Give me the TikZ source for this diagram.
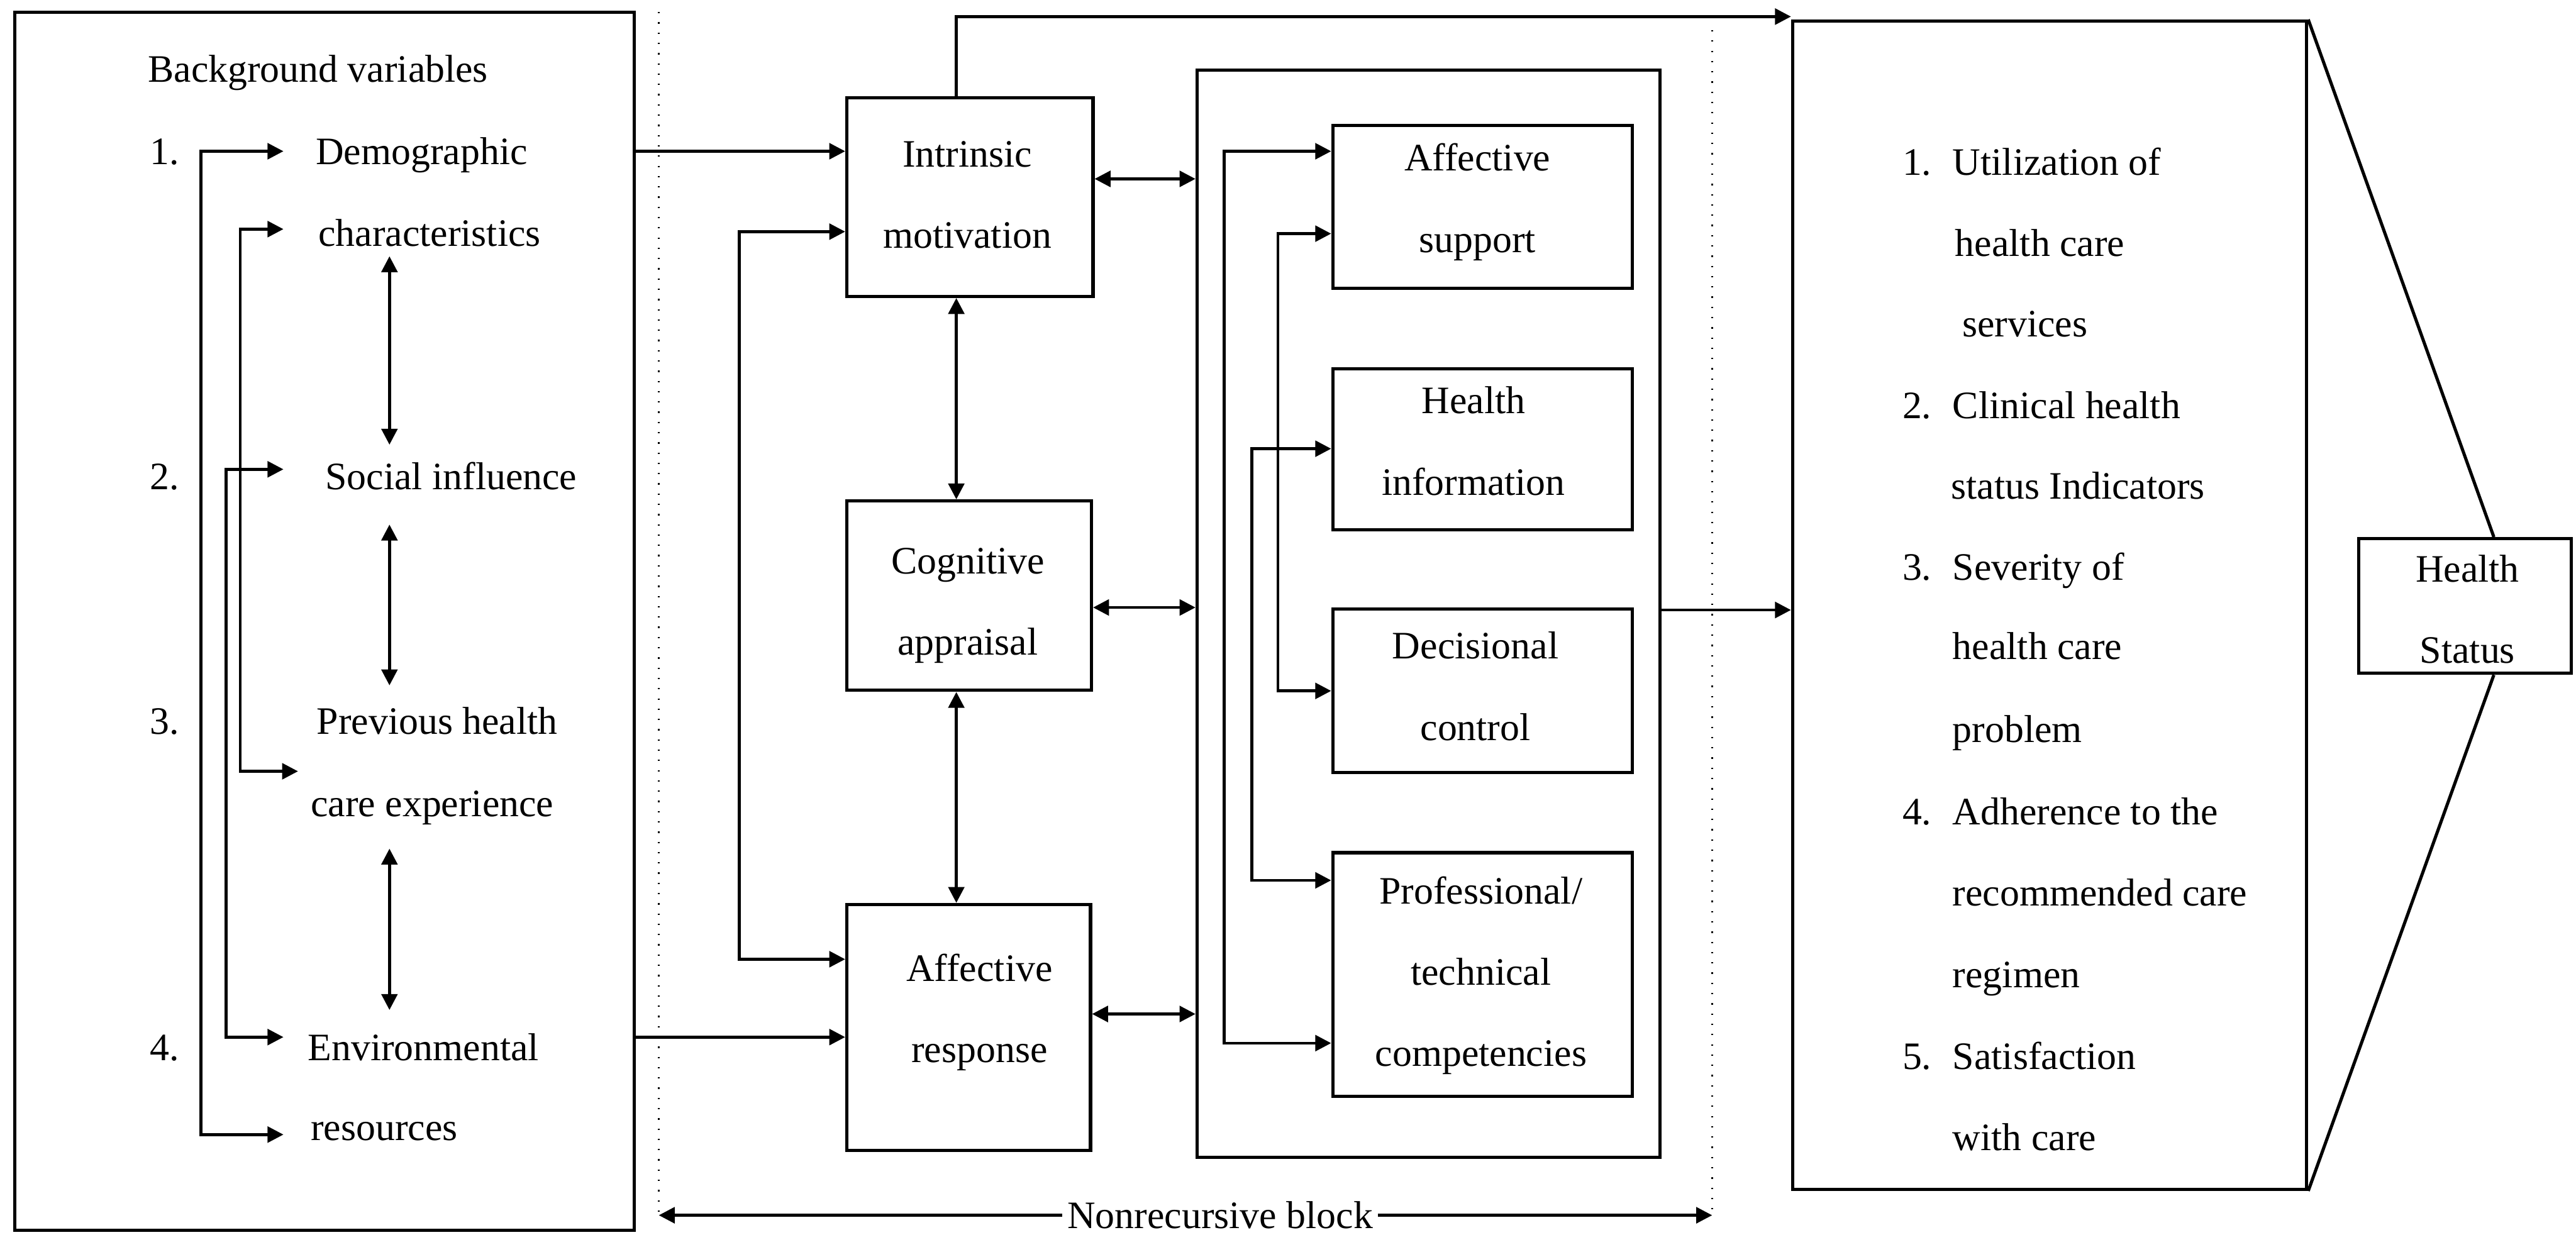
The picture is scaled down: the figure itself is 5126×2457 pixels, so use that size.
\documentclass[tikz,border=0pt]{standalone}
\usepackage{fontspec}
\setmainfont{Liberation Serif}
\usetikzlibrary{arrows.meta,fit}
\begin{document}
\begin{tikzpicture}[x=0.1mm,y=-0.1mm,
  box/.style={draw,line width=1.8pt,inner sep=0pt},
  txt/.style={inner sep=0pt,font=\fontsize{22}{46}\selectfont},
  ctxt/.style={txt,align=center,anchor=base},
  ltxt/.style={txt,anchor=base west},
  conn/.style={line width=1.6pt},
  arr/.style={conn,-{Triangle[length=9pt,width=9pt]}},
  darr/.style={conn,{Triangle[length=9pt,width=9pt]}-{Triangle[length=9pt,width=9pt]}},
  dotline/.style={line width=1.3pt,dash pattern=on 0.8pt off 5pt},
  link/.style={line width=1.8pt}]
\useasboundingbox (0,0) rectangle (5126,2457);

% ---------- boxes ----------
\node[box,fit={(29,24) (1262,2448)}] (bg) {};
\node[box,fit={(1685,195) (2175,590)}] (im) {};
\node[box,fit={(1685,997) (2172,1374)}] (ca) {};
\node[box,fit={(1685,1800) (2170,2290)}] (ar) {};
\node[box,fit={(2382,139) (3303,2303)}] (supp) {};
\node[box,fit={(2652,250) (3248,574)}] (as) {};
\node[box,fit={(2652,734) (3248,1054)}] (hi) {};
\node[box,fit={(2652,1212) (3248,1537)}] (dc) {};
\node[box,fit={(2652,1697) (3248,2182)}] (pt) {};
\node[box,fit={(3567,42) (4590,2367)}] (out) {};
\node[box,fit={(4693,1072) (5116,1340)}] (hs) {};

% ---------- box texts (anchor = baseline of last line) ----------
\node[ctxt] (imt) at (1925,494) {Intrinsic\\motivation};
\node[ctxt] (cat) at (1926,1304) {Cognitive\\appraisal};
\node[ctxt] (art) at (1949,2114) {Affective\\response};
\node[ctxt] (ast) at (2940,502) {Affective\\support};
\node[ctxt] (hit) at (2932,985) {Health\\information};
\node[ctxt] (dct) at (2936,1473) {Decisional\\control};
\node[ctxt] (ptt) at (2947,2122) {Professional/\\technical\\competencies};
\node[ctxt] (hst) at (4910,1320) {Health\\Status};

% ---------- background variables ----------
\node[ltxt] (bgt) at (294,163) {Background variables};
\node[ltxt] (n1) at (298,327) {1.};
\node[ltxt] (demo1) at (628,327) {Demographic};
\node[ltxt] (demo2) at (633,490) {characteristics};
\node[ltxt] (n2) at (298,974) {2.};
\node[ltxt] (soc) at (647,974) {Social influence};
\node[ltxt] (n3) at (298,1461) {3.};
\node[ltxt] (prev1) at (630,1461) {Previous health};
\node[ltxt] (prev2) at (618,1625) {care experience};
\node[ltxt] (n4) at (298,2110) {4.};
\node[ltxt] (env1) at (612,2110) {Environmental};
\node[ltxt] (env2) at (618,2270) {resources};

\coordinate (tDemo) at (564,301);
\coordinate (tChar) at (564,456);
\coordinate (tSoc) at (564,934);
\coordinate (tPrev) at (593,1535);
\coordinate (tEnv) at (564,2064);
\coordinate (tRes) at (564,2258);
\draw[darr] (tDemo) -- ++(-164,0) |- (tRes);
\draw[darr] (tChar) -- ++(-86,0) |- (tPrev);
\draw[darr] (tSoc) -- ++(-114,0) |- (tEnv);

\coordinate (v1a) at (775,510);  \coordinate (v1b) at (775,885);
\coordinate (v2a) at (775,1044); \coordinate (v2b) at (775,1364);
\coordinate (v3a) at (775,1689); \coordinate (v3b) at (775,2010);
\draw[darr] (v1a) -- (v1b);
\draw[darr] (v2a) -- (v2b);
\draw[darr] (v3a) -- (v3b);

% ---------- outcomes ----------
\node[ltxt] (on1) at (3785,349) {1.};
\node[ltxt] (o1) at (3885,349) {Utilization of};
\node[ltxt] (o2) at (3890,510) {health care};
\node[ltxt] (o3) at (3904,670) {services};
\node[ltxt] (on2) at (3785,833) {2.};
\node[ltxt] (o4) at (3885,833) {Clinical health};
\node[ltxt] (o5) at (3882,993) {status Indicators};
\node[ltxt] (on3) at (3785,1154) {3.};
\node[ltxt] (o6) at (3885,1154) {Severity of};
\node[ltxt] (o7) at (3885,1312) {health care};
\node[ltxt] (o8) at (3885,1477) {problem};
\node[ltxt] (on4) at (3785,1641) {4.};
\node[ltxt] (o9) at (3885,1641) {Adherence to the};
\node[ltxt] (o10) at (3885,1803) {recommended care};
\node[ltxt] (o11) at (3885,1966) {regimen};
\node[ltxt] (on5) at (3785,2128) {5.};
\node[ltxt] (o12) at (3885,2128) {Satisfaction};
\node[ltxt] (o13) at (3885,2290) {with care};

% ---------- main connectors ----------
\draw[arr] (bg.east |- tDemo) -- (im.west |- tDemo);
\draw[arr] (bg.east |- tEnv) -- (ar.west |- tEnv);

\coordinate (loopA) at (1471,461);
\coordinate (loopB) at (1471,1909);
\draw[darr] (im.west |- loopA) -- (loopA) -- (loopB) -- (ar.west |- loopB);

\coordinate (topc) at (1903,33);
\draw[arr] (im.north -| topc) -- (topc) -- (out.west |- topc);

\draw[darr] (im.south -| topc) -- (ca.north -| topc);
\draw[darr] (ca.south -| topc) -- (ar.north -| topc);

\draw[darr] ([yshift=3.65mm]im.east) -- ([yshift=3.65mm]im.east -| supp.west);
\draw[darr] ([yshift=-2.35mm]ca.east) -- ([yshift=-2.35mm]ca.east -| supp.west);
\draw[darr] ([yshift=2.7mm]ar.east) -- ([yshift=2.7mm]ar.east -| supp.west);

\draw[arr] ([yshift=0.7mm]supp.east) -- ([yshift=0.7mm]supp.east -| out.west);

% ---------- inner support connectors ----------
\coordinate (c1a) at (2436,301); \coordinate (c1b) at (2436,2076);
\coordinate (c2a) at (2543,465); \coordinate (c2b) at (2543,1375);
\coordinate (c3a) at (2491,893); \coordinate (c3b) at (2491,1752);
\draw[darr] (as.west |- c1a) -- (c1a) -- (c1b) -- (pt.west |- c1b);
\draw[darr] (as.west |- c2a) -- (c2a) -- (c2b) -- (dc.west |- c2b);
\draw[darr] (hi.west |- c3a) -- (c3a) -- (c3b) -- (pt.west |- c3b);

% ---------- health status links ----------
\draw[link] (out.north east) -- ([xshift=5.8mm]hs.north);
\draw[link] (out.south east) -- ([xshift=5.8mm]hs.south);

% ---------- nonrecursive block ----------
\coordinate (dlt) at (1311,24);  \coordinate (dlb) at (1311,2416);
\coordinate (drt) at (3407,60);  \coordinate (drb) at (3407,2416);
\draw[dotline] (dlt) -- (dlb);
\draw[dotline] (drt) -- (drb);
\node[txt,anchor=base] (nb) at (2428,2445) {Nonrecursive block};
\draw[arr] ([xshift=-1mm]nb.west) -- (nb.west -| dlb);
\draw[arr] ([xshift=1mm]nb.east) -- (nb.east -| drb);
\end{tikzpicture}
\end{document}
